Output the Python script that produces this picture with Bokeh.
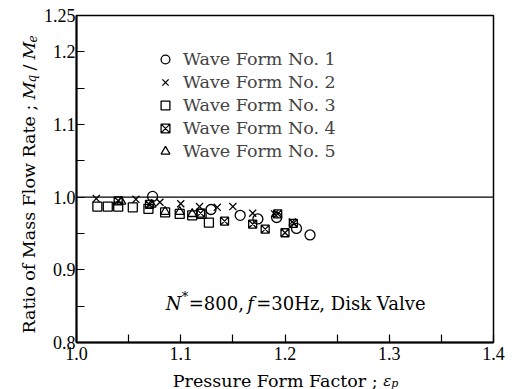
from bokeh.plotting import figure
from bokeh.layouts import row, column
from bokeh.models import Legend, LegendItem, Label, Span, FixedTicker, Range1d
from bokeh.embed import file_html
from bokeh.resources import INLINE

# Pressure form factor (x) and mass flow rate ratio (y) for each wave form
wf1_x = [1.073, 1.129, 1.157, 1.174, 1.192, 1.211, 1.224]
wf1_y = [1.001, 0.983, 0.975, 0.970, 0.972, 0.957, 0.948]

wf2_x = [1.019, 1.057, 1.080, 1.100, 1.118, 1.135, 1.150, 1.169, 1.190, 1.207]
wf2_y = [0.998, 0.997, 0.993, 0.991, 0.987, 0.986, 0.987, 0.978, 0.977, 0.966]

wf3_x = [1.020, 1.030, 1.040, 1.054, 1.069, 1.085, 1.099, 1.111, 1.120, 1.127]
wf3_y = [0.987, 0.987, 0.987, 0.986, 0.984, 0.979, 0.977, 0.975, 0.977, 0.965]

wf4_x = [1.040, 1.070, 1.119, 1.142, 1.169, 1.181, 1.193, 1.200, 1.208]
wf4_y = [0.995, 0.990, 0.978, 0.967, 0.963, 0.956, 0.977, 0.951, 0.964]

wf5_x = [1.043, 1.072, 1.085, 1.099, 1.111]
wf5_y = [0.994, 0.990, 0.980, 0.980, 0.977]

labels = ["Wave Form No. 1", "Wave Form No. 2", "Wave Form No. 3",
          "Wave Form No. 4", "Wave Form No. 5"]

x_ticks = [1.0, 1.1, 1.2, 1.3, 1.4]
x_minor = [1.05, 1.15, 1.25, 1.35]
y_ticks = [0.8, 0.9, 1.0, 1.1, 1.2, 1.25]
y_minor = [0.85, 0.95, 1.05, 1.15]
x_tick_text = ["1.0", "1.1", "1.2", "1.3", "1.4"]
y_tick_text = ["0.8", "0.9", "1.0", "1.1", "1.2", "1.25"]

TICK_FONT = "Liberation Serif"
TEXT_FONT = "DejaVu Serif"

# page geometry: a strip for the y title, the chart, and a strip for the x title
W, H = 516, 389
YT_W = 40                        # y-title strip width
XT_H = 20                        # x-title strip height
ML, MR, MT, MB = 33, 23, 15, 27  # chart borders
X0, X1 = 1.0, 1.4
Y0, Y1 = 0.8, 1.25

main_w = W - YT_W
main_h = H - XT_H
FL, FR = YT_W + ML, W - MR       # frame edges in page pixels

p = figure(width=main_w, height=main_h, x_range=Range1d(X0, X1), y_range=Range1d(Y0, Y1),
           output_backend="svg", toolbar_location=None,
           min_border_left=ML, min_border_right=MR, min_border_top=MT, min_border_bottom=MB)

p.background_fill_color = "white"
p.border_fill_color = "white"
p.xgrid.visible = False
p.ygrid.visible = False
p.outline_line_color = "black"
p.outline_line_width = 1.5

for ax, ticks, minor, texts in ((p.xaxis[0], x_ticks, x_minor, x_tick_text),
                                (p.yaxis[0], y_ticks, y_minor, y_tick_text)):
    ax.ticker = FixedTicker(ticks=ticks, minor_ticks=minor)
    ax.major_label_overrides = {t: s for t, s in zip(ticks, texts)}
    ax.axis_line_width = 2
    ax.axis_line_color = "black"
    ax.major_tick_in = 8
    ax.major_tick_out = 0
    ax.minor_tick_in = 8
    ax.minor_tick_out = 0
    ax.major_tick_line_width = 1.2
    ax.minor_tick_line_width = 1.2
    ax.major_tick_line_color = "black"
    ax.minor_tick_line_color = "black"
    ax.major_label_text_font = TICK_FONT
    ax.major_label_text_font_size = "18px"
    ax.major_label_text_color = "black"
    ax.major_label_standoff = 4
    ax.axis_label = None
p.yaxis[0].major_label_standoff = 1

# reference line at a ratio of 1.0
p.add_layout(Span(location=1.0, dimension="width", line_color="black", line_width=1.3))

style = dict(line_color="black", line_width=1.3, fill_color=None)
r1 = p.scatter(wf1_x, wf1_y, marker="circle", size=10, **style)
r2 = p.scatter(wf2_x, wf2_y, marker="x", size=10, **style)
r3 = p.scatter(wf3_x, wf3_y, marker="square", size=9, **style)
r4 = p.scatter(wf4_x, wf4_y, marker="square_x", size=8, **style)
r5 = p.scatter(wf5_x, wf5_y, marker="triangle", size=9, **style)

legend = Legend(items=[LegendItem(label=lab, renderers=[r])
                       for lab, r in zip(labels, [r1, r2, r3, r4, r5])],
                location=(77, 180), border_line_color=None, background_fill_alpha=0,
                label_text_font=TEXT_FONT, label_text_font_size="17.5px",
                glyph_width=24, glyph_height=22, label_height=22,
                label_standoff=6, spacing=1, padding=0, margin=0)
p.add_layout(legend)


def put(fig, text, x, y, size="17.5px", style="normal", angle=0.0):
    fig.add_layout(Label(x=x, y=y, text=text, angle=angle,
                         text_font=TEXT_FONT, text_font_size=size,
                         text_font_style=style, text_color="black",
                         text_align="left", text_baseline="alphabetic"))


# operating condition note, placed by page pixel inside the chart frame
def cx(px):
    return X0 + (px - FL) * (X1 - X0) / (FR - FL)


def cy(py):
    return Y0 + (main_h - MB - py) * (Y1 - Y0) / (main_h - MT - MB)


put(p, "N", cx(163), cy(303), "18px", "italic")
put(p, "*", cx(179), cy(296), "13px")
put(p, "=800,", cx(186), cy(303), "18px")
put(p, "f", cx(245), cy(303), "18px", "italic")
put(p, "=30Hz, Disk Valve", cx(254), cy(303), "18px")


def strip(w, h, xr, yr):
    s = figure(width=w, height=h, x_range=Range1d(*xr), y_range=Range1d(*yr),
               output_backend="svg", toolbar_location=None,
               x_axis_type=None, y_axis_type=None, min_border=0)
    s.outline_line_color = None
    s.xgrid.visible = False
    s.ygrid.visible = False
    s.background_fill_color = "white"
    s.border_fill_color = "white"
    return s


# x axis title; the strip's frame lines up with the chart frame, so its
# x range is given in page pixels
xt = strip(main_w, XT_H, (FL, FR), (0, XT_H))
xb = H - 380  # baseline, measured up from the page bottom
put(xt, "Pressure Form Factor ;", 170, xb)
put(xt, "\u03b5", 382, xb, "15px", "italic")
put(xt, "p", 390, xb - 3, "11px", "italic")

# y axis title, reading bottom to top
yt = strip(YT_W, H, (0, YT_W), (0, H))
A = 1.5707963
put(yt, "Ratio of Mass Flow Rate ;", 28, H - 333, angle=A)
put(yt, "M", 28, H - 99, angle=A, style="italic")
put(yt, "q", 31, H - 82, "12px", "italic", angle=A)
put(yt, "/", 28, H - 70, angle=A)
put(yt, "M", 28, H - 59, angle=A, style="italic")
put(yt, "e", 31, H - 42, "12px", "italic", angle=A)

page = row(yt, column(p, xt, spacing=0), spacing=0)

open("out.html", "w").write(file_html(page, INLINE))
